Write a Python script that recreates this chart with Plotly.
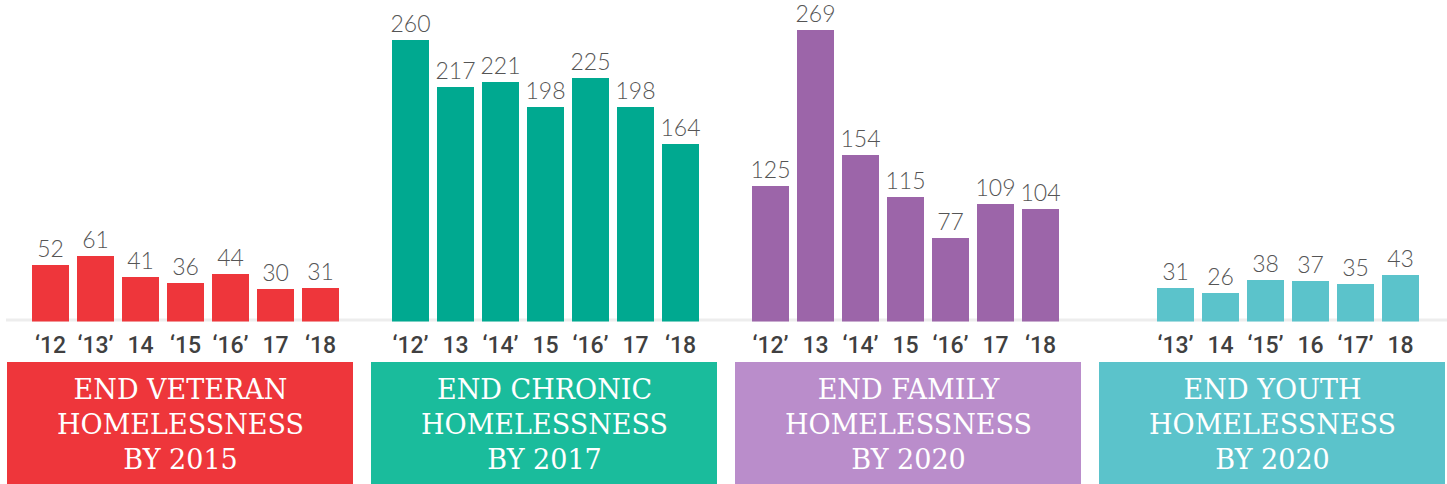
import plotly.graph_objects as go

# ---- data ----
veteran_years = ["\u201812", "\u201813\u2019", "14", "\u201815", "\u201816\u2019", "17", "\u201818"]
veteran_vals = [52, 61, 41, 36, 44, 30, 31]

chronic_years = ["\u201812\u2019", "13", "\u201814\u2019", "15", "\u201816\u2019", "17", "\u201818"]
chronic_vals = [260, 217, 221, 198, 225, 198, 164]

family_years = ["\u201812\u2019", "13", "\u201814\u2019", "15", "\u201816\u2019", "17", "\u201818"]
family_vals = [125, 269, 154, 115, 77, 109, 104]

youth_years = ["\u201813\u2019", "14", "\u201815\u2019", "16", "\u201817\u2019", "18"]
youth_vals = [31, 26, 38, 37, 35, 43]

group_titles = [
    "END VETERAN<br>HOMELESSNESS<br>BY 2015",
    "END CHRONIC<br>HOMELESSNESS<br>BY 2017",
    "END FAMILY<br>HOMELESSNESS<br>BY 2020",
    "END YOUTH<br>HOMELESSNESS<br>BY 2020",
]

bar_colors = ["#EE363B", "#00A990", "#9C65A9", "#5BC3CB"]
box_colors = ["#EE363B", "#1ABC9C", "#BA8DCB", "#5BC3CB"]

groups = [
    (veteran_years, veteran_vals, 0),
    (chronic_years, chronic_vals, 0),
    (family_years, family_vals, 0),
    (youth_years, youth_vals, 1),
]

W, H = 1447, 484
SLOTS_PER_GROUP = 8
PX_PER_SLOT = 45.0
FIRST_CENTER_PX = 50.5
BASE_PX = 321.5
PX_PER_UNIT = 1.082

fig = go.Figure()
tickvals, ticktext = [], []
for g, (years, vals, start) in enumerate(groups):
    xs = [g * SLOTS_PER_GROUP + start + i for i in range(len(vals))]
    tickvals += xs
    ticktext += years
    fig.add_trace(go.Bar(
        x=xs, y=vals, width=0.83,
        marker=dict(color=bar_colors[g], line=dict(width=0)),
        text=[str(v) for v in vals], textposition="outside", constraintext="none",
        textfont=dict(family="Lato", size=23, color="#555555", weight=300),
        cliponaxis=False, hoverinfo="skip", showlegend=False,
    ))

x0 = -FIRST_CENTER_PX / PX_PER_SLOT
x1 = (W - FIRST_CENTER_PX) / PX_PER_SLOT
dom0 = 1 - BASE_PX / H
ytop = BASE_PX / PX_PER_UNIT

shapes = [dict(type="line", xref="paper", yref="y", x0=6 / W, x1=1, y0=0, y1=0,
               line=dict(color="#EDEDED", width=6), layer="below")]
annotations = []
BOX_LEFT, BOX_W, BOX_PITCH, BOX_TOP = 7, 346, 364, 362
for g, title in enumerate(group_titles):
    l = BOX_LEFT + g * BOX_PITCH
    shapes.append(dict(type="rect", xref="paper", yref="paper",
                       x0=l / W, x1=(l + BOX_W) / W, y0=0, y1=(H - BOX_TOP) / H,
                       fillcolor=box_colors[g], line=dict(width=0), layer="below"))
    annotations.append(dict(xref="paper", yref="paper", x=(l + BOX_W / 2) / W,
                            y=(H - 424) / H, text=title, showarrow=False,
                            xanchor="center", yanchor="middle",
                            font=dict(family="DejaVu Serif", size=27, color="white")))

fig.update_layout(
    width=W, height=H, margin=dict(l=0, r=0, t=0, b=0),
    paper_bgcolor="white", plot_bgcolor="white",
    bargap=0, shapes=shapes, annotations=annotations,
    xaxis=dict(range=[x0, x1], tickvals=tickvals, ticktext=ticktext,
               showgrid=False, zeroline=False, showline=False,
               ticks="outside", ticklen=3, tickcolor="rgba(0,0,0,0)",
               tickfont=dict(family="Roboto", size=23, color="#404040", weight=500)),
    yaxis=dict(domain=[dom0, 1], range=[0, ytop], visible=False),
)

fig.write_html("out.html", config={"displayModeBar": False},
               post_script="document.body.style.margin='0';document.body.style.overflow='hidden';")
